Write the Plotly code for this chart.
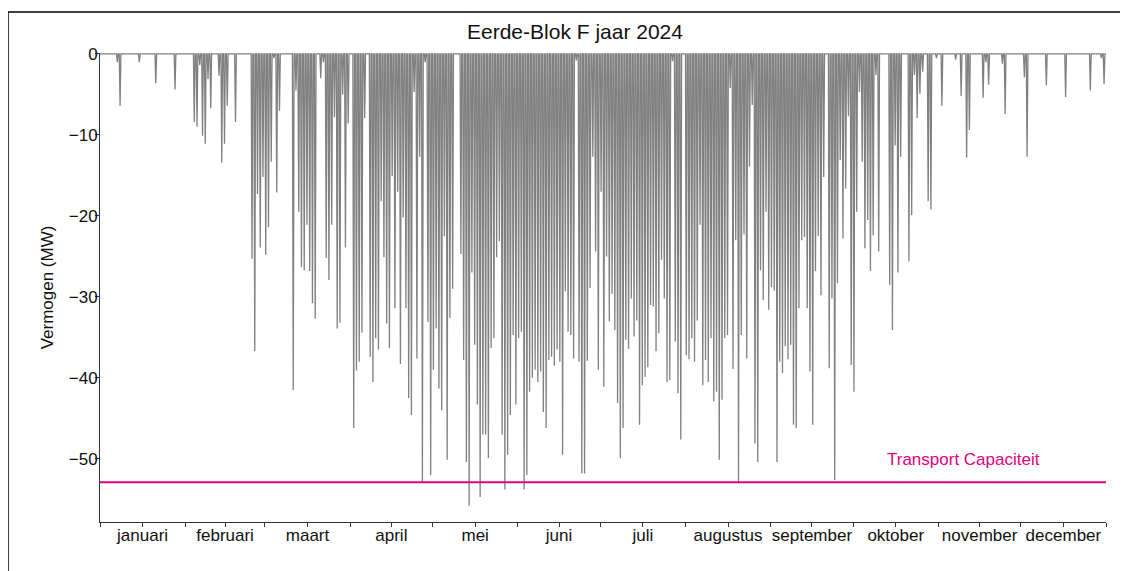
import plotly.graph_objects as go

# ---- data -------------------------------------------------------------
months = ["januari", "februari", "maart", "april", "mei", "juni", "juli",
          "augustus", "september", "oktober", "november", "december"]
month_days = [31, 29, 31, 30, 31, 30, 31, 31, 30, 31, 30, 31]

# daily peak feed-in (MW, negative)
jan = [0, 0, 0, 0, 0, 0, -1.0, -6.4, 0, 0, 0, 0, 0, 0, -1.0, 0, 0, 0, 0, 0,
       -3.6, 0, 0, 0, 0, 0, 0, -4.4, 0, 0, 0]
feb = [0, 0, 0, -8.4, -9.0, -1.4, -10.1, -11.1, -3.1, -6.7, 0, 0, -2.7, -13.4,
       -11.1, -6.4, 0, 0, -8.4, 0, 0, 0, 0, 0, -25.3, -36.7, -17.3, -23.9, -15.2]
mar = [-24.8, -21.4, -13.3, -0.5, -17.1, -7.0, 0, 0, 0, 0, -41.5, -4.5, -19.5,
       -26.3, -26.7, -21.1, -26.8, -30.8, -32.7, 0, -3.0, -1.0, -25.2, -27.9,
       -21.1, -7.8, -33.9, -33.2, -5.0, -23.9, -8.6]
apr = [0, -46.2, -39.1, -38.0, -34.4, -7.9, 0, -37.4, -40.5, -35.1, -36.5,
       -18.2, -25.1, -33.3, -36.3, -15.1, -31.4, -17.0, -38.3, -20.2, -31.4,
       -42.5, -44.6, -4.7, -37.6, -12.7, -52.8, -1.0, -33.1, -52.0]
may = [-39.0, -33.9, -41.3, -44.0, -22.5, -50.1, -32.6, -29.0, 0, 0, -24.7,
       -37.8, -50.4, -55.8, -27.0, -35.9, -43.3, -54.7, -47.0, -47.0, -49.9,
       -36.3, -35.1, -25.1, -23.1, -47.0, -53.8, -49.5, -44.6, -34.7, -43.3]
jun = [-35.1, -34.3, -53.8, -52.0, -41.7, -40.0, -39.0, -40.5, -39.2, -44.2,
       -46.2, -37.8, -37.4, -38.5, -36.5, -38.0, -49.5, -29.3, -34.3, -34.7,
       -37.6, -0.8, -38.0, -51.8, -51.8, -37.9, -28.9, -12.7, -24.4, -39.0]
jul = [-17.0, -41.1, -25.0, -33.0, -29.6, -34.1, -43.1, -49.9, -46.2, -35.3,
       -36.4, -30.2, -34.9, -32.9, -45.8, -40.9, -39.9, -38.7, -31.0, -31.2,
       -36.7, -34.5, -25.4, -30.2, -40.5, -40.3, -0.9, -35.5, -41.9, -47.6, 0]
aug = [-37.2, -37.7, -35.1, -38.0, -32.9, -21.1, -40.9, -37.8, -40.5, -35.1,
       -42.9, -41.7, -50.1, -42.7, -35.1, -34.7, -4.2, -38.9, -23.0, -53.0,
       -34.7, -22.3, -37.6, -13.9, -6.3, -48.1, -50.4, -26.7, -30.4, -19.5, -31.6]
sep = [-28.8, -29.2, -50.4, -38.0, -39.4, -36.1, -37.7, -35.9, -45.8, -46.2,
       -31.4, -23.0, -22.6, -31.4, -39.2, -45.8, -26.8, -22.5, -29.8, -15.2, 0,
       -38.8, -30.2, -52.6, -28.3, -13.1, -22.8, -16.6, -7.7, -38.4]
okt = [-41.7, -19.5, -4.7, -13.3, -24.0, -20.5, -26.8, -22.4, -2.6, -24.4, 0,
       0, 0, -28.5, -34.1, -11.3, -27.0, -12.7, 0, 0, -25.6, -19.9, -2.6, -7.9,
       -4.9, -2.2, 0, -18.2, -19.2, 0, -0.5]
nov = [0, -6.4, 0, 0, 0, 0, -0.7, 0, -5.2, 0, -12.8, -9.4, 0, 0, 0, 0, -5.4,
       -1.0, -3.8, 0, 0, 0, 0, -1.2, -7.4, 0, 0, 0, 0, 0]
dec = [0, -2.9, -12.7, 0, 0, 0, 0, 0, 0, -3.9, 0, 0, 0, 0, 0, 0, -5.3, 0, 0, 0,
       0, 0, 0, 0, 0, -4.5, 0, 0, 0, -0.5, -3.7]

transport_capacity = -52.9

# ---- derived ----------------------------------------------------------
daily = jan + feb + mar + apr + may + jun + jul + aug + sep + okt + nov + dec
n_days = sum(month_days)
starts = [sum(month_days[:i]) for i in range(13)]
mids = [starts[i] + month_days[i] / 2 for i in range(12)]

xs, ys = [0], [0]
for d, v in enumerate(daily):
    xs += [d + 0.0, d + 0.3, d + 0.6]
    ys += [0, v, 0]
xs.append(n_days)
ys.append(0)

FONT = "Liberation Sans, Arial, Helvetica, sans-serif"
PINK = "#E5007D"
AX = "#333333"
TXT = "#111111"

fig = go.Figure()
fig.add_trace(go.Scatter(x=xs, y=ys, mode="lines",
                         line=dict(color="#808080", width=1.3),
                         hoverinfo="skip", showlegend=False))
fig.add_trace(go.Scatter(x=[0, n_days], y=[transport_capacity] * 2,
                         mode="lines", line=dict(color=PINK, width=2),
                         showlegend=False))

fig.add_annotation(x=285.7, y=transport_capacity + 2.8, xref="x", yref="y",
                   text="Transport Capaciteit", showarrow=False,
                   xanchor="left", yanchor="middle",
                   font=dict(family=FONT, size=17, color=PINK))

# figure is placed at (8, 8) in the page
W, H = 1120, 563
L, T = 92, 45
R = W - 1098
B = H - 514
pw, ph = W - L - R, H - T - B

# outer frame of the figure
fig.add_shape(type="rect", xref="paper", yref="paper",
              x0=(0.0 - L) / pw, x1=(1160 - L) / pw,
              y0=(H - B - 620) / ph, y1=(H - B - 4) / ph,
              line=dict(color="black", width=1.5), fillcolor="rgba(0,0,0,0)",
              layer="above")

fig.update_layout(
    width=W, height=H, autosize=False,
    margin=dict(l=L, r=R, t=T, b=B, pad=0),
    paper_bgcolor="white", plot_bgcolor="white",
    font=dict(family=FONT, size=17, color=TXT),
    title=dict(text="Eerde-Blok F jaar 2024", x=567 / W, xref="container",
               xanchor="center", y=1 - 24 / H, yref="container",
               yanchor="middle", font=dict(family=FONT, size=21, color=TXT)),
    showlegend=False,
)
fig.update_xaxes(
    range=[0, n_days], showgrid=False, zeroline=False,
    showline=True, linecolor=AX, linewidth=1,
    tickmode="array", tickvals=mids, ticktext=months,
    ticks="outside", ticklen=4, tickcolor=AX, tickwidth=1,
    ticklabelstandoff=-6,
    minor=dict(tickmode="array", tickvals=starts, ticks="outside",
               ticklen=4, tickcolor=AX, tickwidth=1, showgrid=False),
    tickfont=dict(family=FONT, size=17, color=TXT),
)
yt = [0, -10, -20, -30, -40, -50]
fig.update_yaxes(
    range=[-57.8, 0.12], showgrid=False, zeroline=False,
    showline=True, linecolor=AX, linewidth=1,
    tickmode="array", tickvals=yt,
    ticktext=[("\u2212" + str(-v)) if v < 0 else str(v) for v in yt],
    ticks="outside", ticklen=4, tickcolor=AX, tickwidth=1,
    ticklabelstandoff=-6,
    tickfont=dict(family=FONT, size=17, color=TXT),
    title=dict(text="Vermogen (MW)", standoff=10,
               font=dict(family=FONT, size=17, color=TXT)),
)

fig.write_html("out.html")
